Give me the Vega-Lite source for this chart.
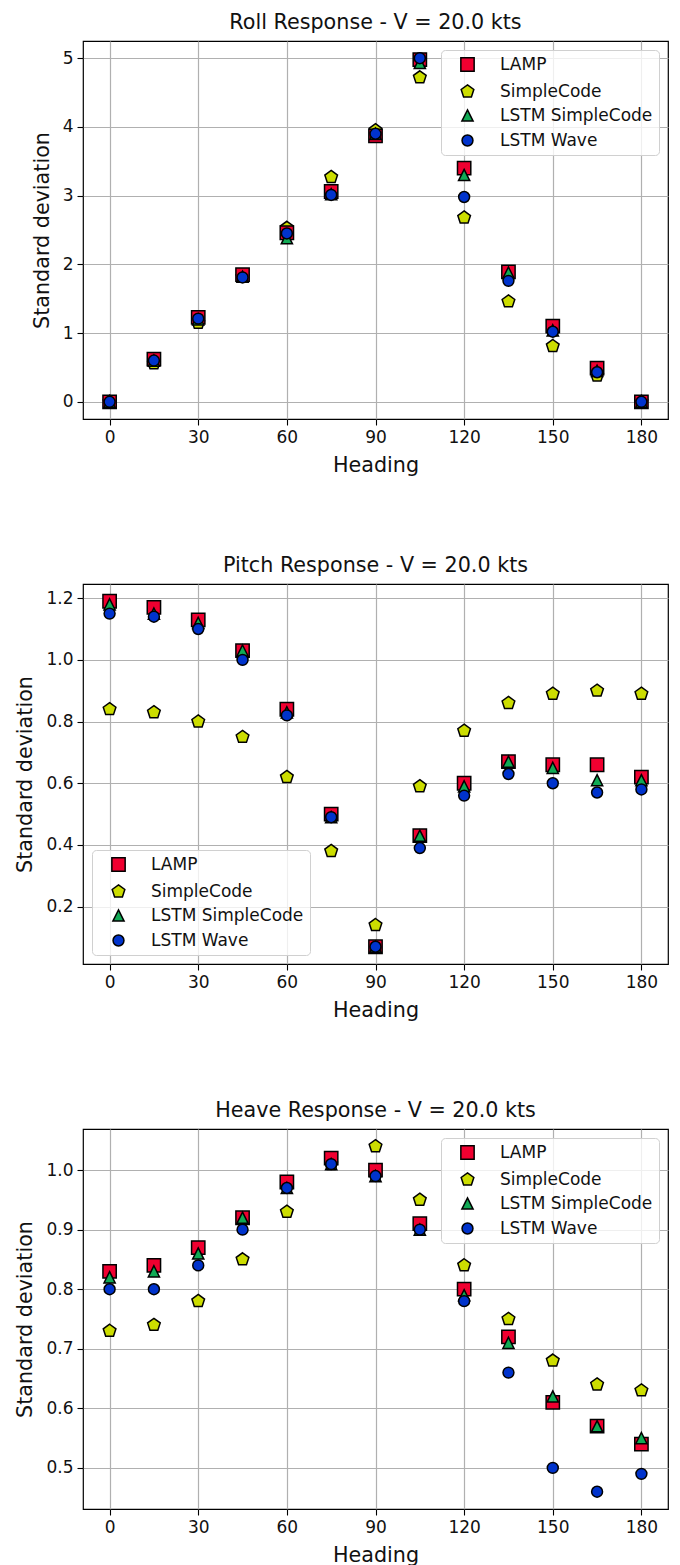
{
  "$schema": "https://vega.github.io/schema/vega-lite/v6.json",
  "autosize": {"type": "pad"},
  "padding": {"left": 14, "top": 11, "right": 0, "bottom": 0},
  "background": "white",
  "spacing": 78,
  "config": {
    "font": "DejaVu Sans",
    "view": {"stroke": "#000", "strokeWidth": 1.2},
    "axis": {
      "grid": true, "gridColor": "#b0b0b0", "gridWidth": 1.2, "domain": false,
      "tickColor": "#000", "tickSize": 6, "tickWidth": 1.1,
      "labelFontSize": 17, "labelColor": "#111", "labelPadding": 4,
      "titleFontSize": 20.7, "titleFontWeight": "normal", "titleColor": "#111", "titlePadding": 10
    },
    "title": {"fontSize": 20.7, "fontWeight": "normal", "color": "#111", "offset": 7},
    "legend": {
      "labelFontSize": 17, "labelColor": "#111", "symbolSize": 196,
      "symbolStrokeColor": "#000", "symbolStrokeWidth": 1.5,
      "padding": 6, "rowPadding": 6, "labelOffset": 24, "symbolOffset": 12,
      "strokeColor": "#d0d0d0", "fillColor": "rgba(255,255,255,0.8)", "cornerRadius": 4, "offset": 9
    }
  },
  "resolve": {"legend": {"color": "independent", "shape": "independent"}},
  "datasets": {
    "roll": [
      {"h":0,"s":"SimpleCode","v":0},{"h":15,"s":"SimpleCode","v":0.56},{"h":30,"s":"SimpleCode","v":1.15},{"h":45,"s":"SimpleCode","v":1.82},{"h":60,"s":"SimpleCode","v":2.53},{"h":75,"s":"SimpleCode","v":3.27},{"h":90,"s":"SimpleCode","v":3.95},{"h":105,"s":"SimpleCode","v":4.72},{"h":120,"s":"SimpleCode","v":2.68},{"h":135,"s":"SimpleCode","v":1.46},{"h":150,"s":"SimpleCode","v":0.81},{"h":165,"s":"SimpleCode","v":0.38},{"h":180,"s":"SimpleCode","v":0},
      {"h":0,"s":"LAMP","v":0},{"h":15,"s":"LAMP","v":0.62},{"h":30,"s":"LAMP","v":1.23},{"h":45,"s":"LAMP","v":1.85},{"h":60,"s":"LAMP","v":2.46},{"h":75,"s":"LAMP","v":3.06},{"h":90,"s":"LAMP","v":3.87},{"h":105,"s":"LAMP","v":4.98},{"h":120,"s":"LAMP","v":3.40},{"h":135,"s":"LAMP","v":1.89},{"h":150,"s":"LAMP","v":1.10},{"h":165,"s":"LAMP","v":0.49},{"h":180,"s":"LAMP","v":0},
      {"h":0,"s":"LSTM SimpleCode","v":0},{"h":15,"s":"LSTM SimpleCode","v":0.60},{"h":30,"s":"LSTM SimpleCode","v":1.20},{"h":45,"s":"LSTM SimpleCode","v":1.82},{"h":60,"s":"LSTM SimpleCode","v":2.38},{"h":75,"s":"LSTM SimpleCode","v":3.02},{"h":90,"s":"LSTM SimpleCode","v":3.90},{"h":105,"s":"LSTM SimpleCode","v":4.93},{"h":120,"s":"LSTM SimpleCode","v":3.30},{"h":135,"s":"LSTM SimpleCode","v":1.88},{"h":150,"s":"LSTM SimpleCode","v":1.04},{"h":165,"s":"LSTM SimpleCode","v":0.45},{"h":180,"s":"LSTM SimpleCode","v":0},
      {"h":0,"s":"LSTM Wave","v":0},{"h":15,"s":"LSTM Wave","v":0.60},{"h":30,"s":"LSTM Wave","v":1.21},{"h":45,"s":"LSTM Wave","v":1.81},{"h":60,"s":"LSTM Wave","v":2.45},{"h":75,"s":"LSTM Wave","v":3.01},{"h":90,"s":"LSTM Wave","v":3.90},{"h":105,"s":"LSTM Wave","v":5.00},{"h":120,"s":"LSTM Wave","v":2.98},{"h":135,"s":"LSTM Wave","v":1.76},{"h":150,"s":"LSTM Wave","v":1.02},{"h":165,"s":"LSTM Wave","v":0.43},{"h":180,"s":"LSTM Wave","v":0}
    ],
    "pitch": [
      {"h":0,"s":"SimpleCode","v":0.84},{"h":15,"s":"SimpleCode","v":0.83},{"h":30,"s":"SimpleCode","v":0.80},{"h":45,"s":"SimpleCode","v":0.75},{"h":60,"s":"SimpleCode","v":0.62},{"h":75,"s":"SimpleCode","v":0.38},{"h":90,"s":"SimpleCode","v":0.14},{"h":105,"s":"SimpleCode","v":0.59},{"h":120,"s":"SimpleCode","v":0.77},{"h":135,"s":"SimpleCode","v":0.86},{"h":150,"s":"SimpleCode","v":0.89},{"h":165,"s":"SimpleCode","v":0.90},{"h":180,"s":"SimpleCode","v":0.89},
      {"h":0,"s":"LAMP","v":1.19},{"h":15,"s":"LAMP","v":1.17},{"h":30,"s":"LAMP","v":1.13},{"h":45,"s":"LAMP","v":1.03},{"h":60,"s":"LAMP","v":0.84},{"h":75,"s":"LAMP","v":0.50},{"h":90,"s":"LAMP","v":0.07},{"h":105,"s":"LAMP","v":0.43},{"h":120,"s":"LAMP","v":0.60},{"h":135,"s":"LAMP","v":0.67},{"h":150,"s":"LAMP","v":0.66},{"h":165,"s":"LAMP","v":0.66},{"h":180,"s":"LAMP","v":0.62},
      {"h":0,"s":"LSTM SimpleCode","v":1.18},{"h":15,"s":"LSTM SimpleCode","v":1.15},{"h":30,"s":"LSTM SimpleCode","v":1.12},{"h":45,"s":"LSTM SimpleCode","v":1.03},{"h":60,"s":"LSTM SimpleCode","v":0.83},{"h":75,"s":"LSTM SimpleCode","v":0.49},{"h":90,"s":"LSTM SimpleCode","v":0.07},{"h":105,"s":"LSTM SimpleCode","v":0.43},{"h":120,"s":"LSTM SimpleCode","v":0.59},{"h":135,"s":"LSTM SimpleCode","v":0.67},{"h":150,"s":"LSTM SimpleCode","v":0.65},{"h":165,"s":"LSTM SimpleCode","v":0.61},{"h":180,"s":"LSTM SimpleCode","v":0.61},
      {"h":0,"s":"LSTM Wave","v":1.15},{"h":15,"s":"LSTM Wave","v":1.14},{"h":30,"s":"LSTM Wave","v":1.10},{"h":45,"s":"LSTM Wave","v":1.00},{"h":60,"s":"LSTM Wave","v":0.82},{"h":75,"s":"LSTM Wave","v":0.49},{"h":90,"s":"LSTM Wave","v":0.07},{"h":105,"s":"LSTM Wave","v":0.39},{"h":120,"s":"LSTM Wave","v":0.56},{"h":135,"s":"LSTM Wave","v":0.63},{"h":150,"s":"LSTM Wave","v":0.60},{"h":165,"s":"LSTM Wave","v":0.57},{"h":180,"s":"LSTM Wave","v":0.58}
    ],
    "heave": [
      {"h":0,"s":"SimpleCode","v":0.73},{"h":15,"s":"SimpleCode","v":0.74},{"h":30,"s":"SimpleCode","v":0.78},{"h":45,"s":"SimpleCode","v":0.85},{"h":60,"s":"SimpleCode","v":0.93},{"h":75,"s":"SimpleCode","v":1.01},{"h":90,"s":"SimpleCode","v":1.04},{"h":105,"s":"SimpleCode","v":0.95},{"h":120,"s":"SimpleCode","v":0.84},{"h":135,"s":"SimpleCode","v":0.75},{"h":150,"s":"SimpleCode","v":0.68},{"h":165,"s":"SimpleCode","v":0.64},{"h":180,"s":"SimpleCode","v":0.63},
      {"h":0,"s":"LAMP","v":0.83},{"h":15,"s":"LAMP","v":0.84},{"h":30,"s":"LAMP","v":0.87},{"h":45,"s":"LAMP","v":0.92},{"h":60,"s":"LAMP","v":0.98},{"h":75,"s":"LAMP","v":1.02},{"h":90,"s":"LAMP","v":1.00},{"h":105,"s":"LAMP","v":0.91},{"h":120,"s":"LAMP","v":0.80},{"h":135,"s":"LAMP","v":0.72},{"h":150,"s":"LAMP","v":0.61},{"h":165,"s":"LAMP","v":0.57},{"h":180,"s":"LAMP","v":0.54},
      {"h":0,"s":"LSTM SimpleCode","v":0.82},{"h":15,"s":"LSTM SimpleCode","v":0.83},{"h":30,"s":"LSTM SimpleCode","v":0.86},{"h":45,"s":"LSTM SimpleCode","v":0.92},{"h":60,"s":"LSTM SimpleCode","v":0.97},{"h":75,"s":"LSTM SimpleCode","v":1.01},{"h":90,"s":"LSTM SimpleCode","v":0.99},{"h":105,"s":"LSTM SimpleCode","v":0.90},{"h":120,"s":"LSTM SimpleCode","v":0.79},{"h":135,"s":"LSTM SimpleCode","v":0.71},{"h":150,"s":"LSTM SimpleCode","v":0.62},{"h":165,"s":"LSTM SimpleCode","v":0.57},{"h":180,"s":"LSTM SimpleCode","v":0.55},
      {"h":0,"s":"LSTM Wave","v":0.80},{"h":15,"s":"LSTM Wave","v":0.80},{"h":30,"s":"LSTM Wave","v":0.84},{"h":45,"s":"LSTM Wave","v":0.90},{"h":60,"s":"LSTM Wave","v":0.97},{"h":75,"s":"LSTM Wave","v":1.01},{"h":90,"s":"LSTM Wave","v":0.99},{"h":105,"s":"LSTM Wave","v":0.90},{"h":120,"s":"LSTM Wave","v":0.78},{"h":135,"s":"LSTM Wave","v":0.66},{"h":150,"s":"LSTM Wave","v":0.50},{"h":165,"s":"LSTM Wave","v":0.46},{"h":180,"s":"LSTM Wave","v":0.49}
    ]
  },
  "vconcat": [
    {
      "title": "Roll Response - V = 20.0 kts",
      "width": 585, "height": 378,
      "data": {"name": "roll"},
      "mark": {"type": "point", "filled": true, "opacity": 1, "stroke": "#000", "strokeWidth": 1.5, "size": 196},
      "encoding": {
        "x": {"field": "h", "type": "quantitative", "scale": {"domain": [-9, 189], "nice": false, "zero": false}, "axis": {"values": [0,30,60,90,120,150,180], "title": "Heading"}},
        "y": {"field": "v", "type": "quantitative", "scale": {"domain": [-0.25, 5.25], "nice": false, "zero": false}, "axis": {"values": [0,1,2,3,4,5], "title": "Standard deviation"}},
        "color": {"field": "s", "type": "nominal", "title": null,
          "scale": {"domain": ["LAMP","SimpleCode","LSTM SimpleCode","LSTM Wave"], "range": ["#f00030","#ccdd00","#11aa55","#0033cc"]},
          "legend": {"orient": "top-right", "title": null}},
        "shape": {"field": "s", "type": "nominal", "title": null,
          "scale": {"domain": ["LAMP","SimpleCode","LSTM SimpleCode","LSTM Wave"], "range": ["M-0.95,-0.95L0.95,-0.95L0.95,0.95L-0.95,0.95Z","M0,-0.95L0.904,-0.294L0.558,0.769L-0.558,0.769L-0.904,-0.294Z","M0,-0.8L0.8,0.8L-0.8,0.8Z","M0.78,0A0.78,0.78,0,1,1,-0.78,0A0.78,0.78,0,1,1,0.78,0Z"]},
          "legend": {"orient": "top-right", "title": null}}
      }
    },
    {
      "title": "Pitch Response - V = 20.0 kts",
      "width": 585, "height": 380,
      "data": {"name": "pitch"},
      "mark": {"type": "point", "filled": true, "opacity": 1, "stroke": "#000", "strokeWidth": 1.5, "size": 196},
      "encoding": {
        "x": {"field": "h", "type": "quantitative", "scale": {"domain": [-9, 189], "nice": false, "zero": false}, "axis": {"values": [0,30,60,90,120,150,180], "title": "Heading"}},
        "y": {"field": "v", "type": "quantitative", "scale": {"domain": [0.014, 1.246], "nice": false, "zero": false}, "axis": {"values": [0.2,0.4,0.6,0.8,1.0,1.2], "format": ".1f", "title": "Standard deviation"}},
        "color": {"field": "s", "type": "nominal", "title": null,
          "scale": {"domain": ["LAMP","SimpleCode","LSTM SimpleCode","LSTM Wave"], "range": ["#f00030","#ccdd00","#11aa55","#0033cc"]},
          "legend": {"orient": "bottom-left", "title": null}},
        "shape": {"field": "s", "type": "nominal", "title": null,
          "scale": {"domain": ["LAMP","SimpleCode","LSTM SimpleCode","LSTM Wave"], "range": ["M-0.95,-0.95L0.95,-0.95L0.95,0.95L-0.95,0.95Z","M0,-0.95L0.904,-0.294L0.558,0.769L-0.558,0.769L-0.904,-0.294Z","M0,-0.8L0.8,0.8L-0.8,0.8Z","M0.78,0A0.78,0.78,0,1,1,-0.78,0A0.78,0.78,0,1,1,0.78,0Z"]},
          "legend": {"orient": "bottom-left", "title": null}}
      }
    },
    {
      "title": "Heave Response - V = 20.0 kts",
      "width": 585, "height": 380,
      "data": {"name": "heave"},
      "mark": {"type": "point", "filled": true, "opacity": 1, "stroke": "#000", "strokeWidth": 1.5, "size": 196},
      "encoding": {
        "x": {"field": "h", "type": "quantitative", "scale": {"domain": [-9, 189], "nice": false, "zero": false}, "axis": {"values": [0,30,60,90,120,150,180], "title": "Heading"}},
        "y": {"field": "v", "type": "quantitative", "scale": {"domain": [0.431, 1.069], "nice": false, "zero": false}, "axis": {"values": [0.5,0.6,0.7,0.8,0.9,1.0], "format": ".1f", "title": "Standard deviation"}},
        "color": {"field": "s", "type": "nominal", "title": null,
          "scale": {"domain": ["LAMP","SimpleCode","LSTM SimpleCode","LSTM Wave"], "range": ["#f00030","#ccdd00","#11aa55","#0033cc"]},
          "legend": {"orient": "top-right", "title": null}},
        "shape": {"field": "s", "type": "nominal", "title": null,
          "scale": {"domain": ["LAMP","SimpleCode","LSTM SimpleCode","LSTM Wave"], "range": ["M-0.95,-0.95L0.95,-0.95L0.95,0.95L-0.95,0.95Z","M0,-0.95L0.904,-0.294L0.558,0.769L-0.558,0.769L-0.904,-0.294Z","M0,-0.8L0.8,0.8L-0.8,0.8Z","M0.78,0A0.78,0.78,0,1,1,-0.78,0A0.78,0.78,0,1,1,0.78,0Z"]},
          "legend": {"orient": "top-right", "title": null}}
      }
    }
  ]
}
